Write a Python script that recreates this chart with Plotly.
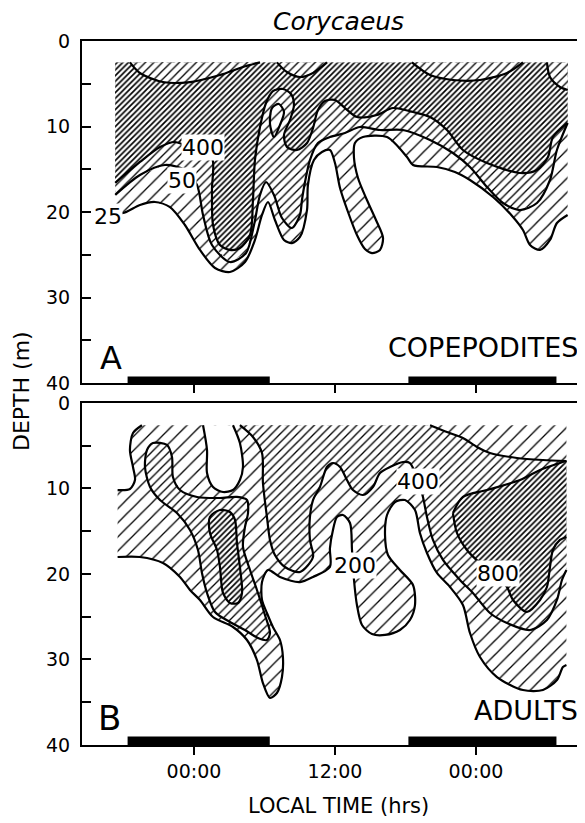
import plotly.graph_objects as go

# ---------------- data (time in hours from first local midnight, depth in m) -------------
TICK_HOURS = [0, 12, 24]
TICK_TEXT = ["00:00", "12:00", "00:00"]
DEPTH_TICKS = [0, 5, 10, 15, 20, 25, 30, 35, 40]
DEPTH_TEXT = ["0", "", "10", "", "20", "", "30", "", "40"]
NIGHTS = [(-5.65, 6.45), (18.25, 30.85)]

# panel A frame of sampled data
A_TOP, A_LEFT, A_RIGHT = 2.5, -6.7, 31.8
# panel B frame of sampled data
B_TOP, B_LEFT, B_RIGHT = 2.6, -6.5, 31.7

# Panel A (copepodites) isopleths
A_25 = [(-6.7, 2.5), (31.8, 2.5), (31.8, 20.35), (30.89, 21.29), (30.30, 23.27), (29.45, 24.44),
        (28.60, 23.86), (28.00, 22.11), (27.15, 20.58), (25.45, 18.25), (23.49, 16.26), (22.21, 15.32),
        (20.68, 14.74), (18.64, 14.50), (18.13, 13.57), (16.43, 11.23), (14.38, 11.23), (13.70, 11.93),
        (13.62, 13.68), (13.96, 16.02), (14.72, 18.60), (15.49, 20.94), (16.09, 23.04), (15.83, 24.44),
        (15.15, 24.80), (14.55, 24.33), (13.87, 22.69), (13.11, 20.00), (12.43, 17.19), (12.00, 14.27),
        (11.57, 12.75), (10.89, 12.98), (10.21, 13.92), (9.70, 16.84), (9.62, 19.77), (9.02, 22.92),
        (8.34, 23.63), (7.66, 23.27), (6.89, 20.94), (6.30, 18.83), (5.79, 20.35), (5.19, 23.27),
        (4.34, 25.85), (3.06, 27.02), (1.79, 26.55), (0.51, 24.44), (-0.77, 21.52), (-2.04, 19.42),
        (-3.32, 18.83), (-4.60, 19.18), (-6.04, 20.12), (-6.7, 19.9)]
A_50 = [(-6.7, 2.5), (31.8, 2.5), (31.8, 9.59), (30.89, 12.75), (30.30, 16.26), (29.19, 18.95),
        (27.74, 19.77), (26.30, 18.95), (24.94, 17.08), (23.49, 14.74), (22.04, 13.10), (20.09, 11.58),
        (17.79, 10.41), (15.83, 10.41), (14.13, 10.06), (12.85, 10.76), (11.57, 11.23), (10.55, 11.93),
        (9.87, 13.92), (9.45, 16.49), (9.19, 18.60), (9.02, 20.35), (8.34, 21.87), (7.49, 20.70),
        (6.81, 18.01), (6.13, 16.49), (5.62, 18.01), (5.11, 21.52), (4.43, 24.80), (3.06, 25.85),
        (1.53, 23.86), (0.77, 20.35), (0.26, 16.84), (-0.77, 15.09), (-2.47, 14.50), (-4.60, 15.67),
        (-6.7, 18.0)]
A_400 = [(-6.7, 2.5), (31.8, 2.5), (31.8, 9.59), (30.55, 11.23), (30.13, 13.57), (29.19, 15.09),
         (27.74, 15.44), (24.94, 14.27), (22.89, 12.75), (21.53, 10.41), (20.09, 8.89), (18.64, 8.30),
         (16.94, 7.84), (15.57, 8.65), (13.87, 8.89), (12.85, 7.84), (12.00, 6.90), (11.15, 7.02),
         (10.55, 8.07), (10.13, 10.18), (9.62, 11.93), (8.77, 12.75), (7.91, 12.40), (7.66, 10.99),
         (8.17, 9.24), (8.51, 7.49), (8.26, 6.20), (7.57, 5.61), (6.72, 5.85), (6.13, 7.25),
         (5.62, 10.06), (5.19, 13.92), (5.02, 18.60), (4.77, 22.69), (3.91, 24.21), (3.06, 24.44),
         (2.21, 23.86), (1.62, 21.52), (1.53, 17.43), (1.53, 13.68), (0.09, 12.75), (-1.62, 11.81),
         (-2.89, 12.40), (-4.60, 14.15), (-6.7, 16.6)]
A_FINGER = [(6.64, 7.84), (7.23, 7.37), (7.66, 8.30), (7.32, 9.82), (6.81, 11.23), (6.47, 9.71)]
A_TOP_POCKETS = [
    [(-5.45, 2.5), (-4.60, 3.74), (-2.64, 4.80), (-0.34, 4.80), (2.21, 3.98), (4.17, 3.04), (5.62, 2.5)],
    [(7.06, 2.5), (7.91, 3.63), (9.02, 4.21), (10.13, 3.74), (11.32, 2.5)],
    [(18.55, 2.5), (20.09, 3.98), (22.04, 4.56), (24.34, 4.56), (26.64, 3.74), (28.00, 2.5)],
    [(30.04, 2.5), (30.30, 4.21), (31.15, 5.38), (31.8, 5.73), (31.8, 2.5)],
]

# Panel B (adults) isopleths
B_200 = [(-4.43, 2.6), (31.7, 2.6), (31.7, 30.64), (31.40, 30.88), (30.89, 32.40), (29.70, 33.57),
         (28.00, 33.57), (25.79, 32.05), (24.34, 29.71), (23.49, 26.90), (22.89, 23.63), (21.79, 21.52),
         (20.68, 19.88), (19.83, 17.54), (19.23, 15.20), (18.81, 12.51), (17.96, 11.35), (17.11, 11.58),
         (16.43, 13.10), (16.26, 15.44), (16.51, 17.78), (17.53, 19.53), (18.64, 21.29), (18.81, 23.63),
         (18.38, 25.38), (17.53, 26.55), (16.26, 27.13), (15.15, 27.02), (14.30, 25.96), (13.87, 23.63),
         (13.62, 20.70), (13.45, 17.19), (13.28, 14.04), (12.68, 13.10), (12.17, 13.33), (11.83, 14.85),
         (11.57, 17.00), (11.57, 19.18), (10.13, 20.35), (9.02, 20.94), (7.32, 20.35), (6.30, 19.53),
         (5.79, 20.94), (5.79, 23.04), (6.21, 24.56), (6.72, 26.20), (7.32, 27.72), (7.57, 29.71),
         (7.49, 32.05), (7.06, 33.92), (6.47, 34.50), (5.87, 32.75), (5.36, 30.06), (4.51, 27.72),
         (3.32, 26.20), (1.62, 25.03), (0.51, 23.04), (-0.34, 21.87), (-1.19, 20.35), (-2.64, 18.71),
         (-4.60, 18.01), (-6.5, 18.01), (-6.5, 10.18), (-5.45, 10.06), (-5.02, 9.01), (-5.19, 7.49),
         (-5.45, 5.50), (-5.19, 3.51)]
B_NOTCH = [(0.77, 2.6), (1.11, 5.50), (1.11, 8.19), (1.62, 9.82), (2.47, 10.41), (3.32, 10.18),
           (3.91, 9.01), (4.17, 7.49), (3.91, 4.68), (3.32, 2.6)]
B_400_TOP = [(3.91, 2.6), (20.09, 2.6), (21.53, 3.39), (22.89, 4.09), (24.09, 5.15), (25.19, 5.85),
             (27.49, 6.43), (29.70, 6.67), (31.7, 6.79), (31.7, 19.53), (31.32, 20.70), (30.89, 23.04),
             (30.04, 25.38), (28.60, 26.55), (26.64, 25.73), (25.19, 24.56), (23.74, 22.22), (22.64, 20.70),
             (21.19, 18.36), (20.34, 16.02), (19.83, 13.33), (19.49, 10.99), (19.06, 9.01), (18.38, 7.02),
             (17.79, 6.90), (16.68, 7.49), (15.83, 8.19), (15.23, 9.82), (14.38, 10.76), (13.53, 10.18),
             (13.02, 9.01), (12.43, 7.49), (11.83, 7.02), (11.32, 7.49), (10.72, 9.82), (10.13, 11.35),
             (9.87, 13.33), (9.87, 16.02), (10.13, 18.01), (9.02, 19.77), (7.74, 19.18), (6.89, 17.78),
             (6.47, 16.02), (6.21, 13.33), (5.87, 9.36), (5.79, 5.85), (5.02, 3.98)]
B_400_LOOP = [(-4.00, 5.50), (-3.49, 4.68), (-2.30, 4.91), (-1.87, 6.32), (-1.79, 8.65), (-1.19, 10.18),
              (0.26, 10.99), (2.21, 11.11), (3.66, 10.99), (4.51, 11.35), (4.60, 12.87), (4.34, 14.50),
              (4.17, 16.84), (4.77, 19.53), (5.36, 21.87), (6.04, 24.80), (6.47, 26.90), (6.21, 27.72),
              (5.45, 27.49), (4.34, 26.55), (3.06, 25.61), (1.79, 24.44), (1.11, 22.22), (0.68, 19.88),
              (0.34, 17.19), (-0.34, 14.85), (-1.45, 12.87), (-2.89, 11.35), (-3.74, 9.82), (-4.17, 7.49)]
B_800_TONGUE = [(1.36, 13.33), (2.21, 12.51), (3.06, 12.75), (3.49, 13.68), (3.66, 16.37), (3.91, 19.18),
                (4.09, 22.22), (3.74, 23.39), (3.06, 23.39), (2.47, 22.22), (2.21, 19.18), (1.96, 17.19),
                (1.36, 15.20)]
B_800_RIGHT = [(22.04, 12.87), (22.89, 10.99), (24.94, 10.18), (27.74, 9.01), (29.45, 7.84), (31.15, 7.02),
               (31.7, 6.79), (31.7, 15.67), (31.15, 16.02), (30.55, 17.19), (30.30, 19.18), (30.04, 21.52),
               (29.45, 23.04), (28.34, 24.44), (27.15, 23.04), (26.64, 21.52), (25.45, 19.88), (24.34, 18.71),
               (23.23, 17.19), (22.38, 15.20)]

# contour labels: (text, hour, depth)
A_LABELS = [("400", 0.77, 12.40), ("50", -1.02, 16.26), ("25", -7.32, 20.47)]
B_LABELS = [("400", 19.06, 9.24), ("200", 13.70, 19.06), ("800", 25.87, 20.0)]

# ---------------- styles ----------------
SPARSE = dict(shape="/", size=10, solidity=0.13, fgcolor="black", bgcolor="white", fillmode="replace")
MEDIUM = dict(shape="/", size=6, solidity=0.22, fgcolor="black", bgcolor="white", fillmode="replace")
DENSE = dict(shape="/", size=4, solidity=0.42, fgcolor="black", bgcolor="white", fillmode="replace")
FONT = "DejaVu Sans"


def outline(pts, top, left, right):
    xs, ys = [], []
    n = len(pts)
    for i in range(n):
        x0, y0 = pts[i]
        x1, y1 = pts[(i + 1) % n]
        frame = (y0 == top and y1 == top) or (x0 == left and x1 == left) or (x0 == right and x1 == right)
        if frame:
            if xs and xs[-1] is not None:
                xs.append(None)
                ys.append(None)
            continue
        if not xs or xs[-1] is None:
            xs.append(x0)
            ys.append(y0)
        xs.append(x1)
        ys.append(y1)
    return xs, ys


fig = go.Figure()


def add_region(pts, pattern, xa, ya, frame, white=False):
    xs = [p[0] for p in pts]
    ys = [p[1] for p in pts]
    kw = dict(x=xs, y=ys, mode="lines", line=dict(width=0), fill="toself", fillcolor="white",
              hoverinfo="skip", xaxis=xa, yaxis=ya, showlegend=False)
    if not white:
        kw["fillpattern"] = pattern
    fig.add_trace(go.Scatter(**kw))
    lx, ly = outline(pts, *frame)
    fig.add_trace(go.Scatter(x=lx, y=ly, mode="lines",
                             line=dict(color="black", width=2.2, shape="spline", smoothing=0.8),
                             hoverinfo="skip", xaxis=xa, yaxis=ya, showlegend=False))


FA = (A_TOP, A_LEFT, A_RIGHT)
FB = (B_TOP, B_LEFT, B_RIGHT)

add_region(A_25, SPARSE, "x", "y", FA)
add_region(A_50, MEDIUM, "x", "y", FA)
add_region(A_400, DENSE, "x", "y", FA)
add_region(A_FINGER, SPARSE, "x", "y", FA)
for poly in A_TOP_POCKETS:
    add_region(poly, MEDIUM, "x", "y", FA)

add_region(B_200, SPARSE, "x2", "y2", FB)
add_region(B_NOTCH, None, "x2", "y2", FB, white=True)
add_region(B_400_TOP, MEDIUM, "x2", "y2", FB)
add_region(B_400_LOOP, MEDIUM, "x2", "y2", FB)
add_region(B_800_TONGUE, DENSE, "x2", "y2", FB)
add_region(B_800_RIGHT, DENSE, "x2", "y2", FB)

shapes = []
for a, b in NIGHTS:
    shapes.append(dict(type="rect", xref="x", yref="y", x0=a, x1=b, y0=39.25, y1=40,
                       fillcolor="black", line=dict(width=0), layer="above"))
    shapes.append(dict(type="rect", xref="x2", yref="y2", x0=a, x1=b, y0=39.0, y1=40,
                       fillcolor="black", line=dict(width=0), layer="above"))

annotations = []
for txt, hx, d in A_LABELS:
    annotations.append(dict(text=txt, x=hx, y=d, xref="x", yref="y", showarrow=False,
                            font=dict(family=FONT, size=22, color="black"), bgcolor="white", borderpad=0))
for txt, hx, d in B_LABELS:
    annotations.append(dict(text=txt, x=hx, y=d, xref="x2", yref="y2", showarrow=False,
                            font=dict(family=FONT, size=22, color="black"), bgcolor="white", borderpad=0))

annotations += [
    dict(text="A", x=-7.06, y=37.1, xref="x", yref="y", showarrow=False,
         font=dict(family=FONT, size=32, color="black")),
    dict(text="COPEPODITES", x=32.85, y=35.9, xref="x", yref="y", xanchor="right", showarrow=False,
         font=dict(family=FONT, size=27, color="black")),
    dict(text="B", x=-7.15, y=36.9, xref="x2", yref="y2", showarrow=False,
         font=dict(family=FONT, size=34, color="black")),
    dict(text="ADULTS", x=32.85, y=36.0, xref="x2", yref="y2", xanchor="right", showarrow=False,
         font=dict(family=FONT, size=27, color="black")),
    dict(text="<i>Corycaeus</i>", x=0.509, y=1.027, xref="paper", yref="paper", showarrow=False,
         xanchor="center", yanchor="middle", font=dict(family=FONT, size=25, color="black")),
    dict(text="DEPTH (m)", x=-0.119, y=0.503, xref="paper", yref="paper", showarrow=False,
         xanchor="center", yanchor="middle", textangle=-90,
         font=dict(family=FONT, size=22, color="black")),
    dict(text="LOCAL TIME (hrs)", x=0.509, y=-0.087, xref="paper", yref="paper", showarrow=False,
         xanchor="center", yanchor="middle", font=dict(family=FONT, size=21, color="black")),
]

xcommon = dict(range=[-9.53, 33.28], tickvals=TICK_HOURS, ticks="outside", ticklen=8, tickwidth=1.5,
               tickcolor="black", showline=True, linewidth=2, linecolor="black", mirror=True,
               showgrid=False, zeroline=False, fixedrange=True)
ycommon = dict(range=[40, 0], tickvals=DEPTH_TICKS, ticktext=DEPTH_TEXT, ticks="inside", ticklen=9,
               tickwidth=1.5, tickcolor="black", showline=True, linewidth=2, linecolor="black",
               showgrid=False, zeroline=False, ticklabelstandoff=6,
               tickfont=dict(family=FONT, size=19, color="black"))

# page body adds an 8px offset; figure is sized so the plot lands where the reference has it
fig.update_layout(
    width=577, height=815,
    margin=dict(l=74, r=0, t=33, b=78),
    paper_bgcolor="white", plot_bgcolor="white",
    showlegend=False,
    font=dict(family=FONT, color="black"),
    xaxis=dict(xcommon, anchor="y", ticktext=["", "", ""]),
    xaxis2=dict(xcommon, anchor="y2", matches="x", ticktext=TICK_TEXT,
                tickfont=dict(family=FONT, size=19, color="black")),
    yaxis=dict(ycommon, domain=[0.5142, 1.0], anchor="x"),
    yaxis2=dict(ycommon, domain=[0.0, 0.4858], anchor="x2"),
    shapes=shapes,
    annotations=annotations,
)

fig.write_html("out.html")
